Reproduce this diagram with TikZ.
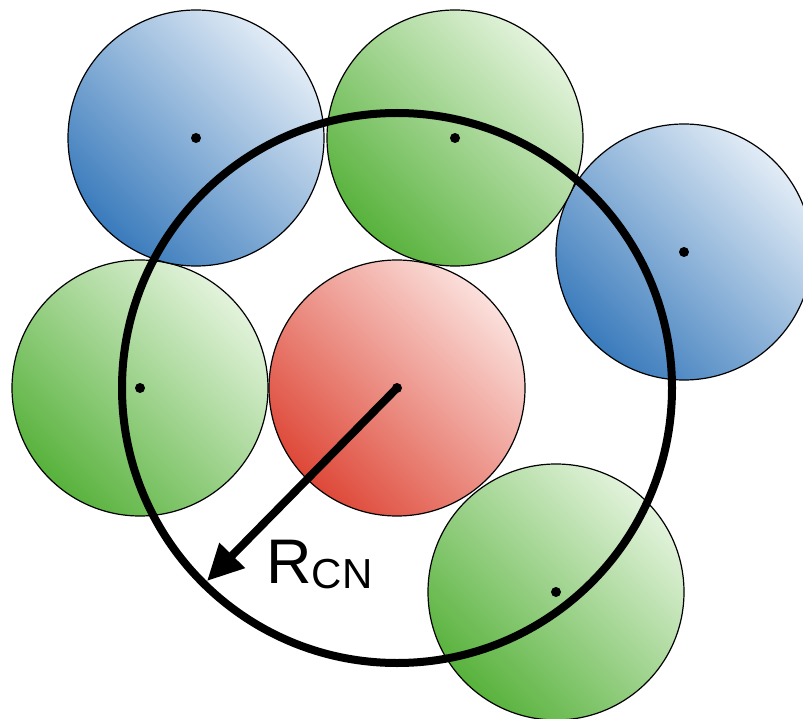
\documentclass[tikz,border=0pt]{standalone}
\usepackage{fontspec}
\setmainfont{Liberation Sans}
\usetikzlibrary{arrows.meta}
\definecolor{bluedark}{HTML}{3A7BBC}
\definecolor{bluelight}{HTML}{E2ECF6}
\definecolor{greendark}{HTML}{58B23C}
\definecolor{greenlight}{HTML}{E3F3DC}
\definecolor{reddark}{HTML}{DE4838}
\definecolor{redlight}{HTML}{FBE0DC}
\tikzset{
  atom/.style={circle,draw,line width=1.2pt,minimum size=256pt,inner sep=0pt},
  blueatom/.style={atom,top color=bluelight,bottom color=bluedark,shading angle=-45},
  greenatom/.style={atom,top color=greenlight,bottom color=greendark,shading angle=-45},
  redatom/.style={atom,top color=redlight,bottom color=reddark,shading angle=-45},
  shell/.style={circle,draw,line width=8pt,minimum size=550pt,inner sep=0pt},
  radius arrow/.style={line width=8pt,line cap=round,-{Triangle[length=36pt,width=34pt]}}
}

\begin{document}
\begin{tikzpicture}[x=1pt,y=-1pt]
  \clip (0,0) rectangle (803,719);
  % neighbours and the central atom
  \node[greenatom] (g1) at (140,388) {};
  \node[blueatom] (b1) at (196,138) {};
  \node[blueatom] (b2) at (684,252) {};
  \node[greenatom] (g2) at (455,138) {};
  \node[redatom] (c) at (397,388) {};
  \node[greenatom] (g3) at (556,592) {};
  \foreach \a in {g1,b1,b2,g2,c,g3}
    \fill (\a.center) circle (5);
  % coordination shell
  \node[shell] (rcn) at (c) {};
  \coordinate (tip) at (207,581);
  \draw[radius arrow] (c.center) -- (tip);
  \node[anchor=base west,inner sep=0pt] (lbl) at (266,583)
    {\fontsize{63}{63}\selectfont R\fontsize{42}{42}\selectfont\raisebox{-5pt}{CN}};
\end{tikzpicture}
\end{document}
